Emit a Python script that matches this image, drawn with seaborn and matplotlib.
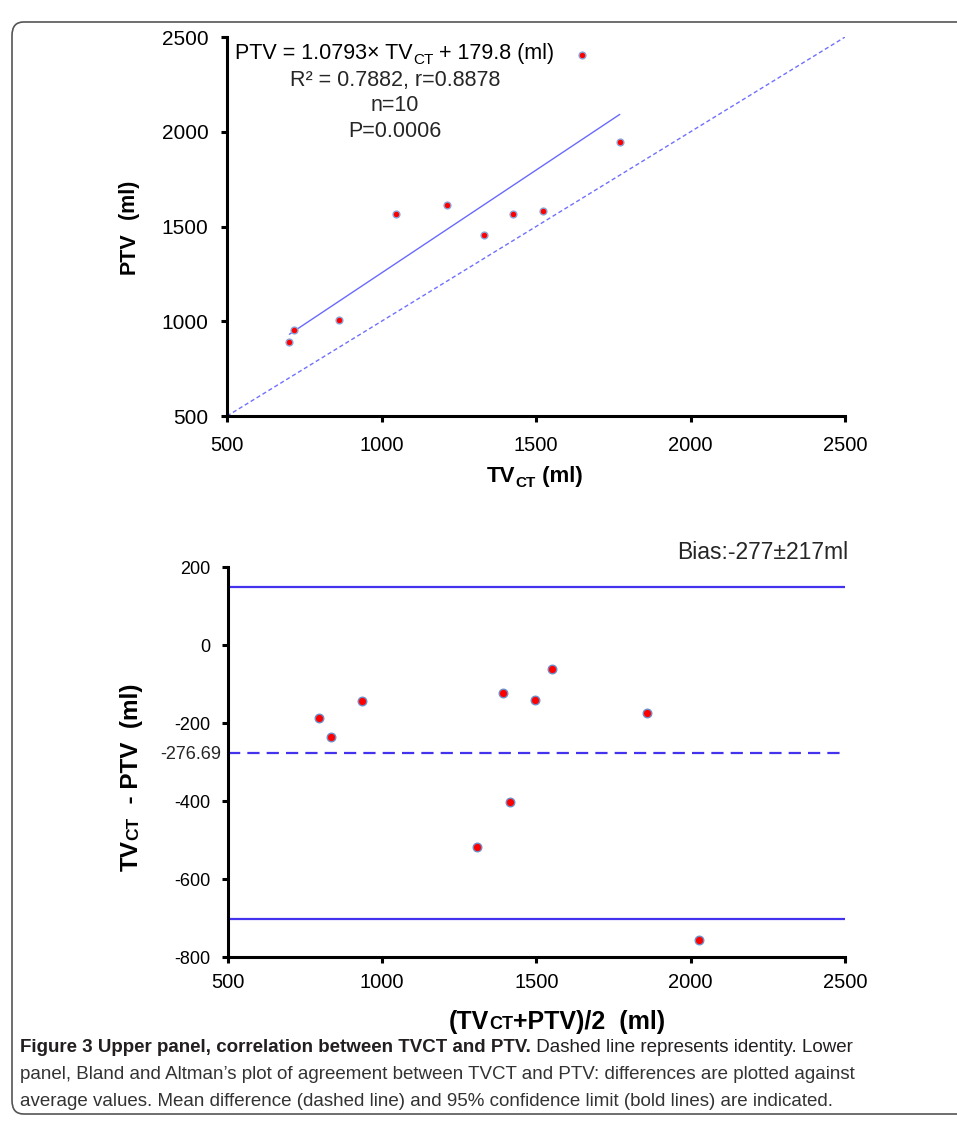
import numpy as np
import pandas as pd
import matplotlib
matplotlib.use('Agg')
import matplotlib.pyplot as plt
import seaborn as sns
from matplotlib import font_manager
from matplotlib.patches import FancyBboxPatch

# Daten
tv_ct = np.array([702, 717, 861, 1048, 1212, 1331, 1425, 1521, 1771, 1649])
ptv = np.array([889, 952, 1005, 1566, 1615, 1453, 1566, 1582, 1946, 2404])
bias_mean = -276.69
bias_sd = 217
ticks_top = [500, 1000, 1500, 2000, 2500]
ticks_bottom_y = [-800, -600, -400, -200, 0, 200]

sns.set_style('ticks')
plt.rcParams['axes.unicode_minus'] = False
plt.rcParams['font.family'] = ['Liberation Sans', 'DejaVu Sans']

names = {f.name for f in font_manager.fontManager.ttflist}
NARROW = 'Liberation Sans Narrow' if 'Liberation Sans Narrow' in names else 'Liberation Sans'

BLUE = '#4433ee'
fig = plt.figure(figsize=(9.57, 11.29), dpi=100)
W, H = fig.bbox.width, fig.bbox.height
renderer = fig.canvas.get_renderer()


def pieced(parts, x, y, rotation=0, ha='center', family='Liberation Sans', color='black'):
    # Text aus Stücken (Index ohne Tiefstellung usw.)
    texts, lengths = [], []
    for s, size, dy, weight in parts:
        t = fig.text(0, 0, s, fontsize=size, fontweight=weight, family=family,
                     rotation=rotation, rotation_mode='anchor', ha='left',
                     va='baseline', color=color)
        bb = t.get_window_extent(renderer)
        texts.append(t)
        lengths.append(bb.width if rotation == 0 else bb.height)
    pos = -sum(lengths) / 2 if ha == 'center' else 0
    for t, L, p in zip(texts, lengths, parts):
        dy = p[2]
        if rotation == 0:
            t.set_position((x + pos / W, y + dy / H))
        else:
            t.set_position((x - dy / W, y + pos / H))
        pos += L


def style_axes(ax, xpad, ypad, ysize):
    sns.despine(ax=ax)
    for sp in ['left', 'bottom']:
        ax.spines[sp].set_linewidth(2.2)
        ax.spines[sp].set_color('black')
    ax.tick_params(which='major', length=4.5, width=2.2, direction='out', colors='black')
    ax.tick_params(axis='x', pad=xpad, labelsize=14.5)
    ax.tick_params(axis='y', which='major', pad=ypad, labelsize=ysize)
    for lab in ax.get_xticklabels():
        lab.set_family(NARROW)
    ax.set_xlabel('')
    ax.set_ylabel('')


# --- Oberes Panel: Korrelation ---
ax1 = fig.add_axes([0.2372, 0.6315, 0.6458, 0.3357])
df_top = pd.DataFrame({'TV': tv_ct, 'PTV': ptv})
ax1.plot([500, 2500], [500, 2500], ls=(0, (3, 2)), color='#7070ff', lw=1)
sns.regplot(data=df_top, x='TV', y='PTV', ax=ax1, scatter=False, ci=None,
            truncate=True, line_kws={'color': '#6a6aff', 'lw': 1})
sns.scatterplot(data=df_top, x='TV', y='PTV', ax=ax1, color='red',
                edgecolor='#8aa5d6', linewidth=1, s=24, zorder=3)
ax1.set_xlim(500, 2500)
ax1.set_ylim(500, 2500)
ax1.set_xticks(ticks_top)
ax1.set_yticks(ticks_top)
style_axes(ax1, xpad=10, ypad=9, ysize=15)

ANN = 15.5
pieced([('PTV = 1.0793\u00d7 TV', ANN, 0, 'normal'), ('CT', 11, -5, 'normal'),
        (' + 179.8 (ml)', ANN, 0, 'normal')], 395 / W, 1 - 59 / H)
fig.text(395 / W, 1 - 86 / H, 'R\u00b2 = 0.7882, r=0.8878', fontsize=ANN, ha='center', va='baseline')
fig.text(395 / W, 1 - 111 / H, 'n=10', fontsize=ANN, ha='center', va='baseline')
fig.text(395 / W, 1 - 137 / H, 'P=0.0006', fontsize=ANN, ha='center', va='baseline')

pieced([('PTV', 15.5, 0, 'bold'), ('  (ml)', 15.5, 0, 'bold')], 135 / W, 1 - 227 / H, rotation=90)
pieced([('TV', 16, 0, 'bold'), ('CT', 11, -5, 'bold'), (' (ml)', 16, 0, 'bold')],
       535 / W, 1 - 482 / H, family=NARROW)

# --- Unteres Panel: Bland-Altman ---
ax2 = fig.add_axes([0.2382, 0.1523, 0.6447, 0.3454])
ba = pd.DataFrame({'avg': (tv_ct + ptv) / 2, 'diff': tv_ct - ptv})
upper = bias_mean + 1.96 * bias_sd
lower = bias_mean - 1.96 * bias_sd
ax2.axhline(upper, color=BLUE, lw=1.6)
ax2.axhline(lower, color=BLUE, lw=1.6)
ax2.axhline(bias_mean, color=BLUE, lw=1.6, ls=(0, (5.5, 3.2)))
sns.scatterplot(data=ba, x='avg', y='diff', ax=ax2, color='red',
                edgecolor='#6f8fc8', linewidth=1, s=38, zorder=3)
ax2.set_xlim(500, 2500)
ax2.set_ylim(-800, 200)
ax2.set_xticks(ticks_top)
ax2.set_yticks(ticks_bottom_y)
ax2.set_yticks([bias_mean], labels=['%.2f' % bias_mean], minor=True)
ax2.tick_params(axis='y', which='minor', length=0, pad=4.5, labelsize=13)
style_axes(ax2, xpad=7, ypad=8, ysize=13)

fig.text(848 / W, 1 - 559 / H, 'Bias:-277\u00b1217ml', fontsize=16.5, ha='right', va='baseline')

pieced([('TV', 17.5, 0, 'bold'), ('CT', 12.5, 0, 'bold'), ('  - PTV  (ml)', 17.5, 0, 'bold')],
       138 / W, 1 - 777 / H, rotation=90)
pieced([('(TV', 18, 0, 'bold'), ('CT', 13, 0, 'bold'), ('+PTV)/2  (ml)', 18, 0, 'bold')],
       557 / W, 1 - 1029 / H, family=NARROW)

# --- Bildunterschrift ---
CAP = 13.5
pieced([('Figure 3 Upper panel, correlation between TVCT and PTV.', CAP, 0, 'bold'),
        (' Dashed line represents identity. Lower', CAP, 0, 'normal')],
       20 / W, 1 - 1052 / H, ha='left', family=NARROW, color='#231f20')
fig.text(20 / W, 1 - 1079 / H,
         'panel, Bland and Altman\u2019s plot of agreement between TVCT and PTV: differences are plotted against',
         fontsize=CAP, family=NARROW, va='baseline', color='#333333')
fig.text(20 / W, 1 - 1106 / H,
         'average values. Mean difference (dashed line) and 95% confidence limit (bold lines) are indicated.',
         fontsize=CAP, family=NARROW, va='baseline', color='#333333')

# Rahmen
frame = FancyBboxPatch((12 / W, 1 - 1114 / H), 1.02 - 12 / W, (1114 - 22) / H,
                       boxstyle='round,pad=0,rounding_size=0.012', transform=fig.transFigure,
                       fill=False, edgecolor='#555555', lw=1.2, clip_on=False)
fig.patches.append(frame)

fig.savefig('out.png', dpi=100)
